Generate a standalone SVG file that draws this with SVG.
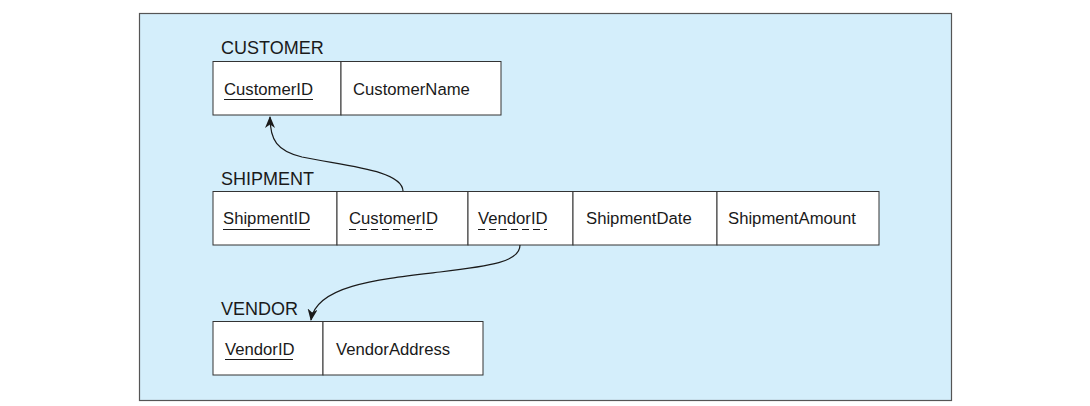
<svg xmlns="http://www.w3.org/2000/svg" width="1090" height="406" viewBox="0 0 1090 406">
<style>
.panel{fill:#d4eefb;stroke:#555;stroke-width:1.2}
.cell{fill:#fff;stroke:#333;stroke-width:1}
.title{font-family:"Liberation Sans",Arial,sans-serif;font-size:18px;fill:#1a1a1a}
.fld{font-family:"Liberation Sans",Arial,sans-serif;font-size:16.7px;fill:#1a1a1a}
.pk{stroke:#1a1a1a;stroke-width:1.2}
.fk{stroke:#1a1a1a;stroke-width:1.2;stroke-dasharray:7 4}
.conn{fill:none;stroke:#1a1a1a;stroke-width:1.2}
</style>
<defs>
<marker id="arr" viewBox="0 0 12 10" refX="11" refY="5" markerWidth="12" markerHeight="10" markerUnits="userSpaceOnUse" orient="auto">
<path d="M0,0 L12,5 L0,10 L3.5,5 Z" fill="#1a1a1a"/>
</marker>
</defs>
<rect x="0" y="0" width="1090" height="406" fill="#fff"/>
<rect class="panel" x="139.5" y="13.5" width="812" height="387"/>
<g id="customer">
<text class="title" x="221" y="54">CUSTOMER</text>
<rect class="cell" x="213" y="61.5" width="128" height="53.5"/>
<rect class="cell" x="341" y="61.5" width="160" height="53.5"/>
<text class="fld" x="224" y="95">CustomerID</text>
<line class="pk" x1="224" y1="99.5" x2="313" y2="99.5"/>
<text class="fld" x="353" y="95">CustomerName</text>
</g>
<g id="shipment">
<text class="title" x="221" y="185">SHIPMENT</text>
<rect class="cell" x="213" y="191.5" width="124" height="53.5"/>
<rect class="cell" x="337" y="191.5" width="131" height="53.5"/>
<rect class="cell" x="468" y="191.5" width="105" height="53.5"/>
<rect class="cell" x="573" y="191.5" width="144" height="53.5"/>
<rect class="cell" x="717" y="191.5" width="162" height="53.5"/>
<text class="fld" x="223" y="224">ShipmentID</text>
<line class="pk" x1="223" y1="229.5" x2="310" y2="229.5"/>
<text class="fld" x="349" y="224">CustomerID</text>
<line class="fk" x1="349" y1="229.5" x2="436" y2="229.5"/>
<text class="fld" x="478" y="224">VendorID</text>
<line class="fk" x1="478" y1="229.5" x2="547" y2="229.5"/>
<text class="fld" x="586" y="224">ShipmentDate</text>
<text class="fld" x="728" y="224">ShipmentAmount</text>
</g>
<g id="vendor">
<text class="title" x="221" y="315">VENDOR</text>
<rect class="cell" x="213" y="321.5" width="110" height="53.5"/>
<rect class="cell" x="323" y="321.5" width="160" height="53.5"/>
<text class="fld" x="225" y="355">VendorID</text>
<line class="pk" x1="225" y1="359.5" x2="293" y2="359.5"/>
<text class="fld" x="336" y="355">VendorAddress</text>
</g>
<g id="connectors">
<path class="conn" d="M403,191 C402,170 345,166 302,157 C277,151 270,140 270,117" marker-end="url(#arr)"/>
<path class="conn" d="M520,245 C520,262 490,266 440,272 C380,279 316,285 311,320" marker-end="url(#arr)"/>
</g>
</svg>
